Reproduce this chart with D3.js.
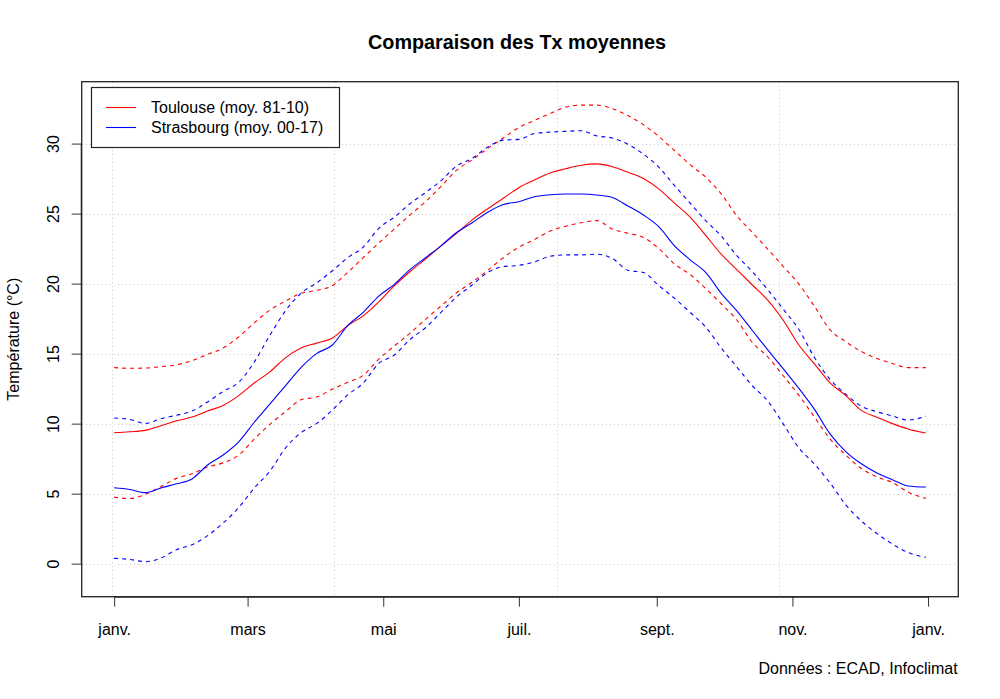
<!DOCTYPE html>
<html>
<head>
<meta charset="utf-8">
<script src="https://cdn.jsdelivr.net/npm/d3@7"></script>
<style>
  html, body { margin: 0; padding: 0; background: #fff; }
  svg { display: block; font-family: "Liberation Sans", Arial, sans-serif; }
</style>
</head>
<body>
<svg id="chart" width="1000" height="699"></svg>
<script>
// Day of year (leap year, 1 = 1 Jan)
const days = [1,8,15,22,29,36,43,50,57,64,71,78,85,92,99,106,113,120,127,134,141,148,155,162,169,176,183,190,197,204,211,218,225,232,239,246,253,260,267,274,281,288,295,302,309,316,323,330,337,344,351,358,366];

// Toulouse (moy. 81-10)
const toulouseMean = [9.35,9.42,9.52,9.85,10.2,10.47,10.9,11.3,12.0,12.9,13.7,14.7,15.4,15.75,16.1,17.0,17.7,18.7,19.85,20.85,21.75,22.7,23.6,24.55,25.35,26.1,26.85,27.4,27.9,28.2,28.45,28.55,28.35,27.95,27.5,26.75,25.75,24.75,23.45,22.1,21.0,19.9,18.8,17.35,15.6,14.25,12.9,12.0,10.95,10.45,10.0,9.62,9.33];
const toulouseMax = [14.0,13.95,13.97,14.07,14.2,14.5,14.95,15.4,16.2,17.2,18.1,18.75,19.3,19.52,19.85,20.8,21.85,22.9,23.9,24.9,25.85,26.95,28.1,28.85,29.65,30.4,31.15,31.65,32.15,32.6,32.75,32.75,32.5,32.0,31.35,30.5,29.5,28.5,27.6,26.4,24.85,23.65,22.45,21.2,19.95,18.35,16.69,15.85,15.15,14.65,14.3,14.0,14.0];
const toulouseMin = [4.75,4.65,4.95,5.5,6.09,6.42,6.9,7.2,7.75,8.9,9.95,10.85,11.7,11.9,12.45,12.95,13.45,14.6,15.55,16.45,17.45,18.4,19.35,20.1,20.95,21.85,22.6,23.15,23.75,24.1,24.35,24.5,23.9,23.6,23.3,22.5,21.4,20.65,19.65,18.55,17.4,15.8,14.75,13.4,12.0,10.45,8.9,7.75,6.8,6.2,5.8,5.1,4.66];

// Strasbourg (moy. 00-17)
const strasbourgMean = [5.42,5.3,5.07,5.4,5.7,6.05,7.05,7.76,8.7,10.1,11.4,12.7,14.0,15.0,15.6,17.0,17.95,19.1,19.95,21.0,21.85,22.7,23.65,24.35,25.1,25.65,25.85,26.2,26.35,26.4,26.4,26.33,26.15,25.55,24.9,24.05,22.7,21.7,20.8,19.3,18.05,16.65,15.25,13.9,12.5,11.0,9.25,8.0,7.13,6.48,6.0,5.55,5.47];
const strasbourgMax = [10.4,10.3,10.02,10.35,10.6,10.9,11.55,12.3,12.95,14.4,16.3,18.05,19.3,20.05,20.9,21.85,22.6,23.95,24.75,25.7,26.5,27.35,28.4,28.95,29.75,30.25,30.3,30.72,30.82,30.87,30.92,30.55,30.4,29.95,29.25,28.3,27.0,25.75,24.5,23.4,22.0,20.85,19.55,18.15,16.7,14.7,13.15,12.1,11.25,10.85,10.55,10.25,10.54];
const strasbourgMin = [0.38,0.3,0.14,0.4,1.0,1.35,2.0,2.9,4.0,5.4,6.6,8.25,9.35,10.0,10.95,12.05,12.9,14.3,14.9,16.0,16.85,17.95,19.05,19.9,20.8,21.22,21.3,21.55,21.95,22.05,22.05,22.1,21.8,20.95,20.8,19.85,18.95,17.95,16.9,15.4,14.05,12.7,11.6,9.95,8.25,7.1,5.75,4.2,3.05,2.15,1.4,0.8,0.45];

// Axis ticks
const monthTickDays = [1,61,122,183,245,306,367];
const monthLabels = ["janv.","mars","mai","juil.","sept.","nov.","janv."];
const yTicks = [0,5,10,15,20,25,30];
const xGridDays = [0,100,200,300];

const legendLabels = ["Toulouse (moy. 81-10)","Strasbourg (moy. 00-17)"];
const legendColors = ["#FF0000","#0000FF"];

const svg = d3.select("#chart");
const L = 81.7, R = 958.3, T = 81.7, B = 596.7;

const x = d3.scaleLinear().domain([-13.6, 380.6]).range([L, R]);
const y = d3.scaleLinear().domain([-2.36, 34.42]).range([B, T]);

// Grid
const grid = svg.append("g").attr("stroke", "#C8C8C8").attr("stroke-dasharray", "1,3")
  .attr("stroke-width", 1).attr("shape-rendering", "crispEdges");
grid.selectAll("line.h").data(yTicks).join("line")
  .attr("x1", L).attr("x2", R)
  .attr("y1", d => Math.round(y(d)) + 0.5).attr("y2", d => Math.round(y(d)) + 0.5);
grid.selectAll("line.v").data(xGridDays).join("line")
  .attr("y1", T).attr("y2", B)
  .attr("x1", d => Math.round(x(d)) + 0.5).attr("x2", d => Math.round(x(d)) + 0.5);

// Lines
const series = [
  {v: toulouseMax, c: "#FF0000", dash: "4,4"},
  {v: toulouseMin, c: "#FF0000", dash: "4,4"},
  {v: strasbourgMax, c: "#0000FF", dash: "4,4"},
  {v: strasbourgMin, c: "#0000FF", dash: "4,4"},
  {v: toulouseMean, c: "#FF0000", dash: null},
  {v: strasbourgMean, c: "#0000FF", dash: null}
];
const line = d3.line().x((d, i) => x(days[i])).y(d => y(d)).curve(d3.curveMonotoneX);
svg.append("g").selectAll("path").data(series).join("path")
  .attr("d", d => line(d.v))
  .attr("fill", "none")
  .attr("stroke", d => d.c)
  .attr("stroke-width", 1.1)
  .attr("stroke-dasharray", d => d.dash);

// Axes
const xAxis = d3.axisBottom(x).tickValues(monthTickDays)
  .tickFormat((d, i) => monthLabels[i]).tickSize(10).tickPadding(17);
const gx = svg.append("g").attr("transform", `translate(0,${B})`).call(xAxis);
gx.select(".domain").attr("d", `M${x(1)},0.5H${x(367)}`);
gx.selectAll("text").attr("font-size", 16).attr("fill", "#000").attr("font-family", "Liberation Sans, Arial, sans-serif");
gx.selectAll("line, path").attr("stroke", "#333");

const yAxis = d3.axisLeft(y).tickValues(yTicks).tickSize(10).tickFormat(d3.format("d"));
const gy = svg.append("g").attr("transform", `translate(${L},0)`).call(yAxis);
gy.select(".domain").attr("d", `M-0.5,${y(0)}V${y(30)}`);
gy.selectAll("line, path").attr("stroke", "#333");
gy.selectAll("text")
  .attr("font-size", 16).attr("fill", "#000").attr("font-family", "Liberation Sans, Arial, sans-serif")
  .attr("x", null).attr("dy", null).attr("text-anchor", "middle")
  .attr("transform", "translate(-23,0) rotate(-90)");

// Box
svg.append("rect").attr("x", L).attr("y", T).attr("width", R - L).attr("height", B - T)
  .attr("fill", "none").attr("stroke", "#222").attr("stroke-width", 1.3);

// Title
svg.append("text").attr("x", 517).attr("y", 48.5).attr("text-anchor", "middle")
  .attr("font-size", 19.8).attr("font-weight", "bold").text("Comparaison des Tx moyennes");

// Y label
svg.append("text").attr("transform", `translate(19,${(T + B) / 2}) rotate(-90)`)
  .attr("text-anchor", "middle").attr("font-size", 16).text("Température (°C)");

// Source
svg.append("text").attr("x", 957.7).attr("y", 673.5).attr("text-anchor", "end")
  .attr("font-size", 16).text("Données : ECAD, Infoclimat");

// Legend
const lg = svg.append("g");
lg.append("rect").attr("x", 91.5).attr("y", 87.5).attr("width", 248).attr("height", 60)
  .attr("fill", "#fff").attr("stroke", "#222").attr("stroke-width", 1.2);
const rowsY = [107.5, 127.5];
lg.selectAll("line").data(legendLabels).join("line")
  .attr("x1", 106).attr("x2", 136)
  .attr("y1", (d, i) => rowsY[i]).attr("y2", (d, i) => rowsY[i])
  .attr("stroke", (d, i) => legendColors[i]).attr("stroke-width", 1.1);
lg.selectAll("text").data(legendLabels).join("text")
  .attr("x", 151).attr("y", (d, i) => rowsY[i] + 5.8)
  .attr("font-size", 16).text(d => d);
</script>
</body>
</html>
